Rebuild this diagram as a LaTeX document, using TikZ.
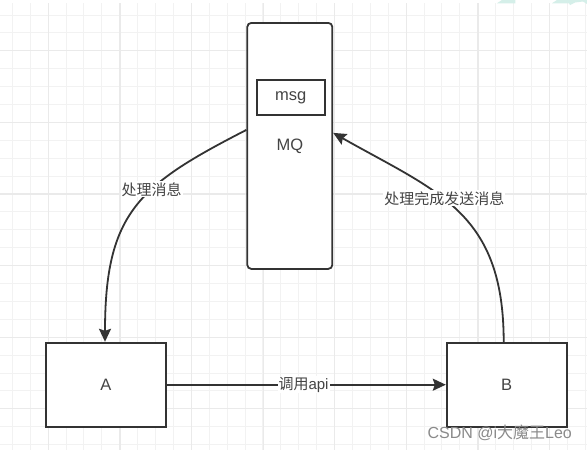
\documentclass[tikz,border=0pt]{standalone}
\usepackage{fontspec}
\setmainfont{Liberation Sans}
\newfontfamily\cjk{Noto Sans CJK SC}
\usetikzlibrary{arrows.meta}
\definecolor{ink}{HTML}{333333}
\definecolor{txt}{HTML}{444444}
\definecolor{gridminor}{HTML}{F2F2F2}
\definecolor{gridmajor}{HTML}{EAEAEA}
\definecolor{wmteal}{HTML}{D5EFE9}
\definecolor{wmgray}{HTML}{8A8A8A}
\begin{document}
\begin{tikzpicture}[x=1pt,y=-1pt,
  box/.style={draw=ink, line width=1.8pt, fill=white, inner sep=0pt, text=txt,
    font=\fontsize{16.5}{18}\selectfont},
  conn/.style={draw=ink, line width=1.8pt, -{Stealth[length=13pt,width=12pt,inset=2pt]}},
  lbl/.style={fill=white, text=txt, inner sep=1pt, font=\fontsize{15}{18}\selectfont},
  minorline/.style={draw=gridminor, line width=1pt},
  majorline/.style={draw=gridmajor, line width=1.2pt},
]
\useasboundingbox (0,0) rectangle (587,450);
\fill[white] (0,0) rectangle (587,450);
% grid
\foreach \i in {0,...,32} \draw[minorline] ({12.3+17.9*\i},3.3) -- ({12.3+17.9*\i},450);
\foreach \j in {0,...,24} \draw[minorline] (0,{15+17.9*\j}) -- (587,{15+17.9*\j});
\foreach \i in {0,...,7} \draw[majorline] ({48.3+71.6*\i},3.3) -- ({48.3+71.6*\i},450);
\foreach \j in {0,...,5} \draw[majorline] (0,{50.7+71.6*\j}) -- (587,{50.7+71.6*\j});
% partial watermark shapes at the top
\fill[wmteal] (497,3.3) -- (502,0) -- (515.3,0) -- (515.3,3.3) -- cycle;
\fill[wmteal] (552,3.3) -- (557,0) -- (587,0) -- (587,4) -- (583,1.5) -- (575,2.5) -- (570,5) -- (569,3.3) -- cycle;

% nodes
\node[box, rounded corners=4pt, minimum width=85pt, minimum height=246pt] (mq) at (289.8,145.9) {MQ};
\node[box, minimum width=68pt, minimum height=35pt] (msg) at (290.7,97.7) {msg};
\node[box, minimum width=120pt, minimum height=84pt] (a) at (106,384.7) {A};
\node[box, minimum width=120pt, minimum height=84pt] (b) at (506.7,384.7) {B};

% connectors
\draw[conn] ([yshift=16pt]mq.west) .. controls +(-107,55) and +(0,-130) .. ([xshift=-1pt]a.north);
\draw[conn] ([xshift=-3pt]b.north) .. controls +(0,-130) and +(104,59) .. ([yshift=13pt]mq.east);
\draw[conn] (a.east) -- (b.west) node[lbl, pos=0.49] (l3) {{\cjk 调用}api};

% labels
\node[lbl] (l1) at (151.7,189.3) {\cjk 处理消息};
\node[lbl] (l2) at (444.3,198.3) {\cjk 处理完成发送消息};

% watermark
\node[anchor=east, text=wmgray, inner sep=0pt, font=\fontsize{16}{18}\selectfont] (wm) at (572,433) {CSDN @i{\cjk 大魔王}Leo};
\end{tikzpicture}
\end{document}
